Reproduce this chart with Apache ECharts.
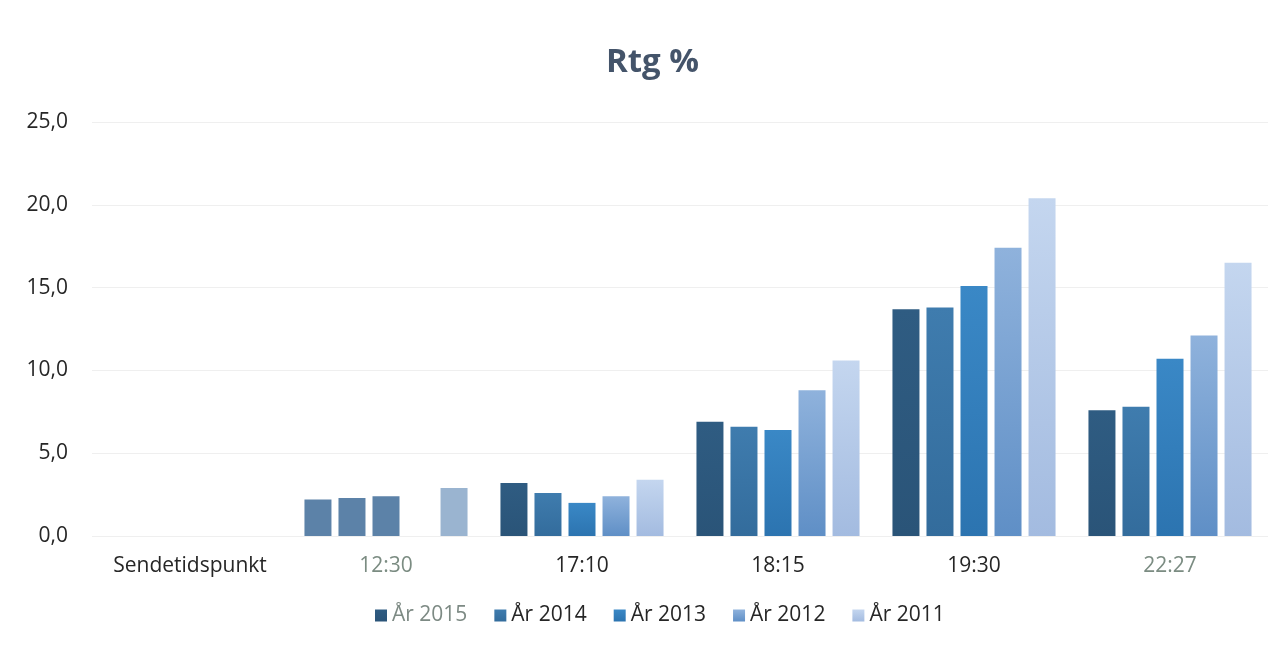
<!DOCTYPE html>
<html>
<head>
<meta charset="utf-8">
<title>Rtg %</title>
<script src="https://cdn.jsdelivr.net/npm/echarts@6/dist/echarts.min.js"></script>
<style>
    html, body {
        margin: 0;
        padding: 0;
        background: #fff;
    }
    #chart {
        width: 1284px;
        height: 651px;
    }
</style>
</head>
<body>
<div id="chart"></div>
<script>
// kategorier (sendetidspunkt) og verdier per år
const categories = ['Sendetidspunkt', '12:30', '17:10', '18:15', '19:30', '22:27'];
const yearNames = ['År 2015', 'År 2014', 'År 2013', 'År 2012', 'År 2011'];
const ar2015 = [null, 2.2, 3.2, 6.9, 13.7, 7.6];
const ar2014 = [null, 2.3, 2.6, 6.6, 13.8, 7.8];
const ar2013 = [null, 2.4, 2.0, 6.4, 15.1, 10.7];
const ar2012 = [null, null, 2.4, 8.8, 17.4, 12.1];
const ar2011 = [null, 2.9, 3.4, 10.6, 20.4, 16.5];
const yTicks = [0, 5, 10, 15, 20, 25];

const seriesData = [ar2015, ar2014, ar2013, ar2012, ar2011];
const colors = [
    ['#2f5c82', '#2a5478'],
    ['#3f7cae', '#336c9c'],
    ['#3a88c6', '#2c74b0'],
    ['#8fb2dc', '#5f8fc6'],
    ['#c4d6ef', '#a3bbe0']
];
// 12:30-gruppen er tegnet i en dempet farge i originalen
const mutedColor = ['#5c82a8', '#5c82a8', '#5c82a8', '#5c82a8', '#9ab4d0'];

function grad(c) {
    return new echarts.graphic.LinearGradient(0, 0, 0, 1, [
        { offset: 0, color: c[0] },
        { offset: 1, color: c[1] }
    ]);
}

const mycharts = echarts.init(document.getElementById('chart'));

mycharts.setOption({
    animation: false,
    textStyle: {
        fontFamily: '"Open Sans", "Noto Sans", sans-serif'
    },
    title: {
        text: 'Rtg %',
        left: 601,
        top: 41,
        textStyle: {
            color: '#44546a',
            fontSize: 33,
            fontWeight: 'bold'
        }
    },
    grid: {
        top: 122,
        bottom: 115,
        left: 92,
        right: 16
    },
    legend: {
        data: yearNames,
        bottom: 20,
        left: 370,
        icon: 'rect',
        itemWidth: 12,
        itemHeight: 12,
        itemGap: 27,
        formatter: function (name) {
            return name === 'År 2015' ? '{g|' + name + '}' : name;
        },
        textStyle: {
            color: '#262626',
            fontSize: 21,
            rich: {
                g: { color: '#7d8a84', fontSize: 21 }
            }
        }
    },
    xAxis: {
        type: 'category',
        data: categories,
        axisLine: { show: false },
        axisTick: { show: false },
        axisLabel: {
            interval: 0,
            fontSize: 21,
            margin: 20,
            color: function (value) {
                return (value === '12:30' || value === '22:27') ? '#7b8c82' : '#262626';
            }
        }
    },
    yAxis: {
        type: 'value',
        min: yTicks[0],
        max: yTicks[yTicks.length - 1],
        interval: 5,
        axisLine: { show: false },
        axisTick: { show: false },
        splitLine: {
            lineStyle: { color: '#efefef', width: 1 }
        },
        axisLabel: {
            fontSize: 21,
            color: '#262626',
            margin: 24,
            formatter: function (v) {
                return v.toFixed(1).replace('.', ',');
            }
        }
    },
    series: seriesData.map(function (d, i) {
        return {
            name: yearNames[i],
            type: 'bar',
            barWidth: 27,
            barGap: '26%',
            data: d.map(function (v, j) {
                if (j === 1 && v !== null) {
                    return { value: v, itemStyle: { color: mutedColor[i] } };
                }
                return v;
            }),
            itemStyle: {
                color: grad(colors[i])
            }
        };
    })
});
</script>
</body>
</html>
